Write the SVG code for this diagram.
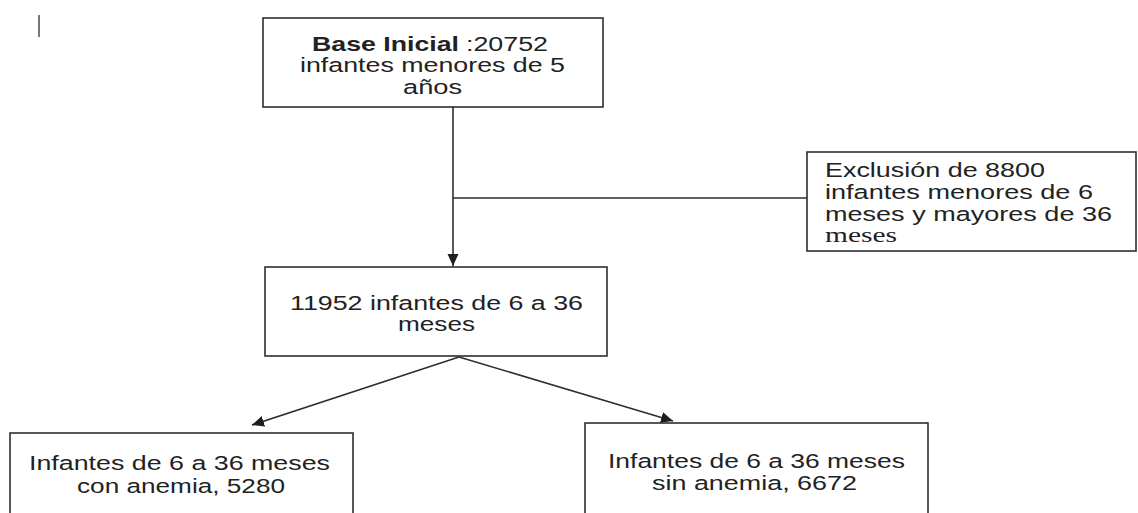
<svg xmlns="http://www.w3.org/2000/svg" width="1138" height="513" viewBox="0 0 1138 513">
<defs>
<style>
.box{fill:#fff;stroke:#2e2e2e;stroke-width:1.6}
.t{font-family:"Liberation Sans",Arial,sans-serif;font-size:20.5px;fill:#222}
.b{font-weight:bold}
.s{font-family:"Liberation Serif","Times New Roman",serif;font-size:20px;fill:#222}
.ln{stroke:#2e2e2e;stroke-width:1.6;fill:none}
</style>
<marker id="ah" viewBox="0 0 12 12" refX="12" refY="6" markerWidth="12" markerHeight="12" markerUnits="userSpaceOnUse" orient="auto">
<path d="M0,0.5 L12,6 L0,11.5 Z" fill="#1e1e1e"/>
</marker>
</defs>
<rect width="1138" height="513" fill="#fff"/>
<line x1="39" y1="15" x2="39" y2="37" stroke="#555" stroke-width="1.6"/>
<g id="connectors">
<line class="ln" x1="453" y1="107" x2="453" y2="266" marker-end="url(#ah)"/>
<line class="ln" x1="453" y1="198" x2="807" y2="198"/>
<line class="ln" x1="459" y1="357" x2="252" y2="425" marker-end="url(#ah)"/>
<line class="ln" x1="459" y1="357" x2="673" y2="421" marker-end="url(#ah)"/>
</g>
<g id="base">
<rect class="box" x="263" y="18" width="340" height="89"/>
<text class="t b" x="312" y="51" textLength="147" lengthAdjust="spacingAndGlyphs">Base Inicial</text>
<text class="t" x="466" y="51" textLength="82" lengthAdjust="spacingAndGlyphs">:20752</text>
<text class="t" x="300" y="72" textLength="265" lengthAdjust="spacingAndGlyphs">infantes menores de 5</text>
<text class="t" x="403" y="94" textLength="59" lengthAdjust="spacingAndGlyphs">años</text>
</g>
<g id="exclusion">
<rect class="box" x="807" y="152" width="329" height="99"/>
<text class="t" x="825" y="177" textLength="220" lengthAdjust="spacingAndGlyphs">Exclusión de 8800</text>
<text class="t" x="825" y="199" textLength="268" lengthAdjust="spacingAndGlyphs">infantes menores de 6</text>
<text class="t" x="825" y="221" textLength="287" lengthAdjust="spacingAndGlyphs">meses y mayores de 36</text>
<text class="s" x="825" y="242" textLength="72" lengthAdjust="spacingAndGlyphs">meses</text>
</g>
<g id="seleccion">
<rect class="box" x="265" y="267" width="342" height="89"/>
<text class="t" x="290" y="310" textLength="293" lengthAdjust="spacingAndGlyphs">11952 infantes de 6 a 36</text>
<text class="t" x="398" y="331" textLength="77" lengthAdjust="spacingAndGlyphs">meses</text>
</g>
<g id="con-anemia">
<rect class="box" x="10" y="433" width="343" height="95"/>
<text class="t" x="29" y="470" textLength="301" lengthAdjust="spacingAndGlyphs">Infantes de 6 a 36 meses</text>
<text class="t" x="77" y="493" textLength="208" lengthAdjust="spacingAndGlyphs">con anemia, 5280</text>
</g>
<g id="sin-anemia">
<rect class="box" x="585" y="423" width="343" height="105"/>
<text class="t" x="608" y="468" textLength="297" lengthAdjust="spacingAndGlyphs">Infantes de 6 a 36 meses</text>
<text class="t" x="652" y="490" textLength="205" lengthAdjust="spacingAndGlyphs">sin anemia, 6672</text>
</g>
</svg>
